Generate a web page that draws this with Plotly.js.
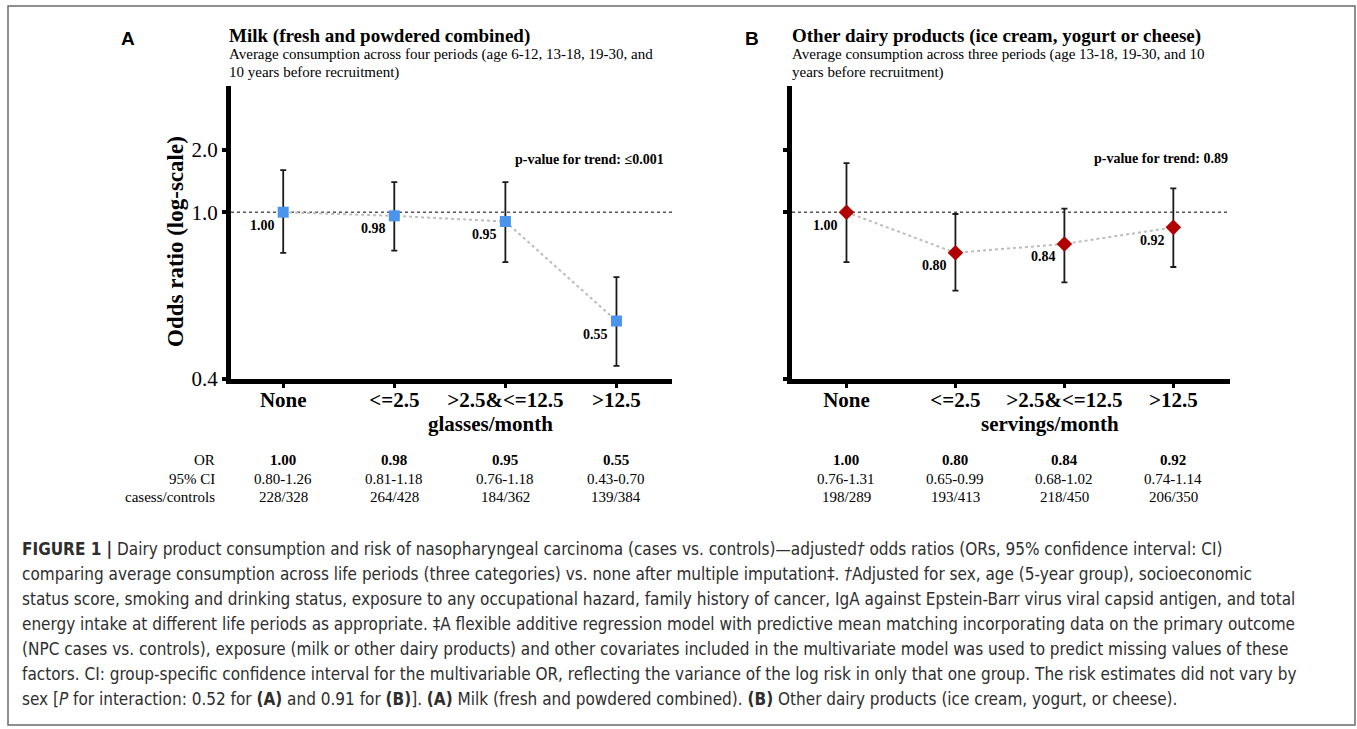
<!DOCTYPE html>
<html><head><meta charset="utf-8">
<script src="https://cdn.plot.ly/plotly-3.0.1.min.js"></script>
<style>html,body{margin:0;padding:0;background:#fff;} #chart{width:1357px;height:729px;}</style>
</head><body><div id="chart"></div>
<script>
// ---- data ----
const categories = ['None', '<=2.5', '>2.5&<=12.5', '>12.5'];
const milkOR   = [1.00, 0.98, 0.95, 0.55];
const milkLow  = [0.80, 0.81, 0.76, 0.43];
const milkHigh = [1.26, 1.18, 1.18, 0.70];
const milkCI   = ['0.80-1.26', '0.81-1.18', '0.76-1.18', '0.43-0.70'];
const milkCases = ['228/328', '264/428', '184/362', '139/384'];
const dairyOR   = [1.00, 0.80, 0.84, 0.92];
const dairyLow  = [0.76, 0.65, 0.68, 0.74];
const dairyHigh = [1.31, 0.99, 1.02, 1.14];
const dairyCI   = ['0.76-1.31', '0.65-0.99', '0.68-1.02', '0.74-1.14'];
const dairyCases = ['198/289', '193/413', '218/450', '206/350'];
const yTickVals = [0.4, 1.0, 1.41];
const yTickText = ['0.4', '1.0', '2.0'];
const rowLabels = ['OR', '95% CI', 'casess/controls'];
const dag = '<i>\u2020</i>';
const ddag = '\u2021';
const captionLines = [
  '<b>FIGURE 1 |</b> Dairy product consumption and risk of nasopharyngeal carcinoma (cases vs. controls)\u2014adjusted' + dag + ' odds ratios (ORs, 95% confidence interval: CI)',
  'comparing average consumption across life periods (three categories) vs. none after multiple imputation' + ddag + '. ' + dag + 'Adjusted for sex, age (5-year group), socioeconomic',
  'status score, smoking and drinking status, exposure to any occupational hazard, family history of cancer, IgA against Epstein-Barr virus viral capsid antigen, and total',
  'energy intake at different life periods as appropriate. ' + ddag + 'A flexible additive regression model with predictive mean matching incorporating data on the primary outcome',
  '(NPC cases vs. controls), exposure (milk or other dairy products) and other covariates included in the multivariate model was used to predict missing values of these',
  'factors. CI: group-specific confidence interval for the multivariable OR, reflecting the variance of the log risk in only that one group. The risk estimates did not vary by',
  'sex [<i>P</i> for interaction: 0.52 for <b>(A)</b> and 0.91 for <b>(B)</b>]. <b>(A)</b> Milk (fresh and powdered combined). <b>(B)</b> Other dairy products (ice cream, yogurt, or cheese).'
];

// ---- helpers ----
const W = 1357, H = 729;
const px = x => x / W, py = y => 1 - y / H;
const serif = 'Liberation Serif, Times New Roman, serif';
const sans = 'Liberation Sans, Arial, sans-serif';
const narrow = 'Liberation Sans Narrow, Arial Narrow, DejaVu Sans Condensed, sans-serif';
const esc = s => s.replace(/&/g, '&amp;').replace(/</g, '&lt;').replace(/>/g, '&gt;');

function xAxis(domain, range) {
  return {
    domain: domain, type: 'category', range: range,
    showline: true, linewidth: 5, linecolor: '#000', mirror: false,
    ticks: 'outside', ticklen: 4, tickwidth: 3, tickcolor: '#000',
    tickmode: 'array', tickvals: categories, ticktext: categories.map(c => '<b>' + esc(c) + '</b>'),
    tickfont: {family: serif, size: 21, color: '#000'}, ticklabelstandoff: -6,
    showgrid: false, zeroline: false, fixedrange: true
  };
}
function yAxis(domain, anchor, showLabels) {
  return {
    domain: domain, anchor: anchor, type: 'log',
    range: [Math.log10(0.4), Math.log10(2.0)],
    showline: true, linewidth: 5, linecolor: '#000',
    ticks: 'outside', ticklen: 4, tickwidth: 4, tickcolor: '#000',
    tickmode: 'array', tickvals: yTickVals, ticktext: yTickText,
    showticklabels: showLabels,
    tickfont: {family: serif, size: 21, color: '#000'},
    showgrid: false, zeroline: false, fixedrange: true
  };
}
function panelTrace(or, lo, hi, xa, ya, color, symbol, size) {
  return {
    type: 'scatter', mode: 'lines+markers', x: categories, y: or, xaxis: xa, yaxis: ya,
    line: {color: '#bdbdbd', width: 2, dash: 'dot'},
    marker: {color: color, symbol: symbol, size: size, line: {width: 0}},
    error_y: {type: 'data', symmetric: false,
      array: hi.map((h, i) => h - or[i]), arrayminus: or.map((v, i) => v - lo[i]),
      color: '#1a1a1a', thickness: 1.8, width: 3},
    hoverinfo: 'skip', showlegend: false, cliponaxis: false
  };
}

const traces = [
  panelTrace(milkOR, milkLow, milkHigh, 'x', 'y', '#4a94ee', 'square', 11),
  panelTrace(dairyOR, dairyLow, dairyHigh, 'x2', 'y2', '#b00000', 'diamond', 12)
];

const ann = [];
function txt(x, y, text, opts) {
  ann.push(Object.assign({xref: 'paper', yref: 'paper', x: px(x), y: py(y), text: text, showarrow: false,
    xanchor: 'left', yanchor: 'middle', font: {family: serif, size: 15, color: '#000'}}, opts || {}));
}
// panel letters and titles
txt(128, 39, '<b>A</b>', {xanchor: 'center', font: {family: sans, size: 19, color: '#000'}});
txt(752, 39, '<b>B</b>', {xanchor: 'center', font: {family: sans, size: 19, color: '#000'}});
txt(227, 36, '<b>Milk (fresh and powdered combined)</b>', {font: {family: serif, size: 19, color: '#000'}});
txt(227, 55, 'Average consumption across four periods (age 6-12, 13-18, 19-30, and', {font: {family: serif, size: 15, color: '#000'}});
txt(227, 73, '10 years before recruitment)', {font: {family: serif, size: 15, color: '#000'}});
txt(790, 36, '<b>Other dairy products (ice cream, yogurt or cheese)</b>', {font: {family: serif, size: 19, color: '#000'}});
txt(790, 55, 'Average consumption across three periods (age 13-18, 19-30, and 10', {font: {family: serif, size: 15, color: '#000'}});
txt(790, 73, 'years before recruitment)', {font: {family: serif, size: 15, color: '#000'}});
txt(666, 160, '<b>p-value for trend: \u22640.001</b>', {xanchor: 'right', font: {family: serif, size: 14, color: '#000'}});
txt(1230, 158, '<b>p-value for trend: 0.89</b>', {xanchor: 'right', font: {family: serif, size: 14, color: '#000'}});
// axis titles
txt(176, 242, '<b>Odds ratio (log-scale)</b>', {xanchor: 'center', textangle: -90, font: {family: serif, size: 23, color: '#000'}});
txt(490, 424, '<b>glasses/month</b>', {xanchor: 'center', font: {family: serif, size: 21, color: '#000'}});
txt(1050, 424, '<b>servings/month</b>', {xanchor: 'center', font: {family: serif, size: 21, color: '#000'}});

// data labels next to points
function dataLabels(or, xref, yref) {
  or.forEach((v, i) => ann.push({xref: xref, yref: yref, x: categories[i], y: Math.log10(v),
    text: '<b>' + v.toFixed(2) + '</b>', showarrow: false, xanchor: 'right', yanchor: 'middle',
    xshift: -6, yshift: -13, font: {family: serif, size: 14, color: '#000'}}));
}
dataLabels(milkOR, 'x', 'y');
dataLabels(dairyOR, 'x2', 'y2');

// table below the plots
const rowY = [460, 479, 497];
rowLabels.forEach((r, j) => txt(217, rowY[j], r, {xanchor: 'right'}));
function tableCols(or, ci, cases, xref) {
  categories.forEach((c, i) => {
    const vals = ['<b>' + or[i].toFixed(2) + '</b>', ci[i], cases[i]];
    vals.forEach((t, j) => ann.push({xref: xref, yref: 'paper', x: c, y: py(rowY[j]), text: t,
      showarrow: false, xanchor: 'center', yanchor: 'middle', font: {family: serif, size: 15, color: '#000'}}));
  });
}
tableCols(milkOR, milkCI, milkCases, 'x');
tableCols(dairyOR, dairyCI, dairyCases, 'x2');

// caption
captionLines.forEach((l, i) => txt(20, 549 + 25 * i, l, {font: {family: narrow, size: 17, color: '#2e2e2e'}}));

const layout = {
  width: W, height: H, margin: {l: 0, r: 0, t: 0, b: 0},
  paper_bgcolor: '#fff', plot_bgcolor: 'rgba(0,0,0,0)', showlegend: false,
  xaxis: Object.assign(xAxis([px(231), px(672)], [-0.47, 3.5]), {anchor: 'y'}),
  yaxis: yAxis([py(379), py(86)], 'x', true),
  xaxis2: Object.assign(xAxis([px(792), px(1230)], [-0.5, 3.52]), {anchor: 'y2'}),
  yaxis2: yAxis([py(379), py(86)], 'x2', false),
  annotations: ann,
  shapes: [
    {type: 'line', xref: 'x domain', yref: 'y', x0: 0, x1: 1, y0: 1, y1: 1, layer: 'below', line: {color: '#555', width: 1.5, dash: 'dot'}},
    {type: 'line', xref: 'x2 domain', yref: 'y2', x0: 0, x1: 1, y0: 1, y1: 1, layer: 'below', line: {color: '#555', width: 1.5, dash: 'dot'}},
    {type: 'rect', xref: 'paper', yref: 'paper', x0: px(8), x1: px(1355), y0: py(725), y1: py(6), line: {color: '#6b6b6b', width: 1.5}}
  ]
};
Plotly.newPlot('chart', traces, layout, {displayModeBar: false, staticPlot: true});
</script>
</body></html>
